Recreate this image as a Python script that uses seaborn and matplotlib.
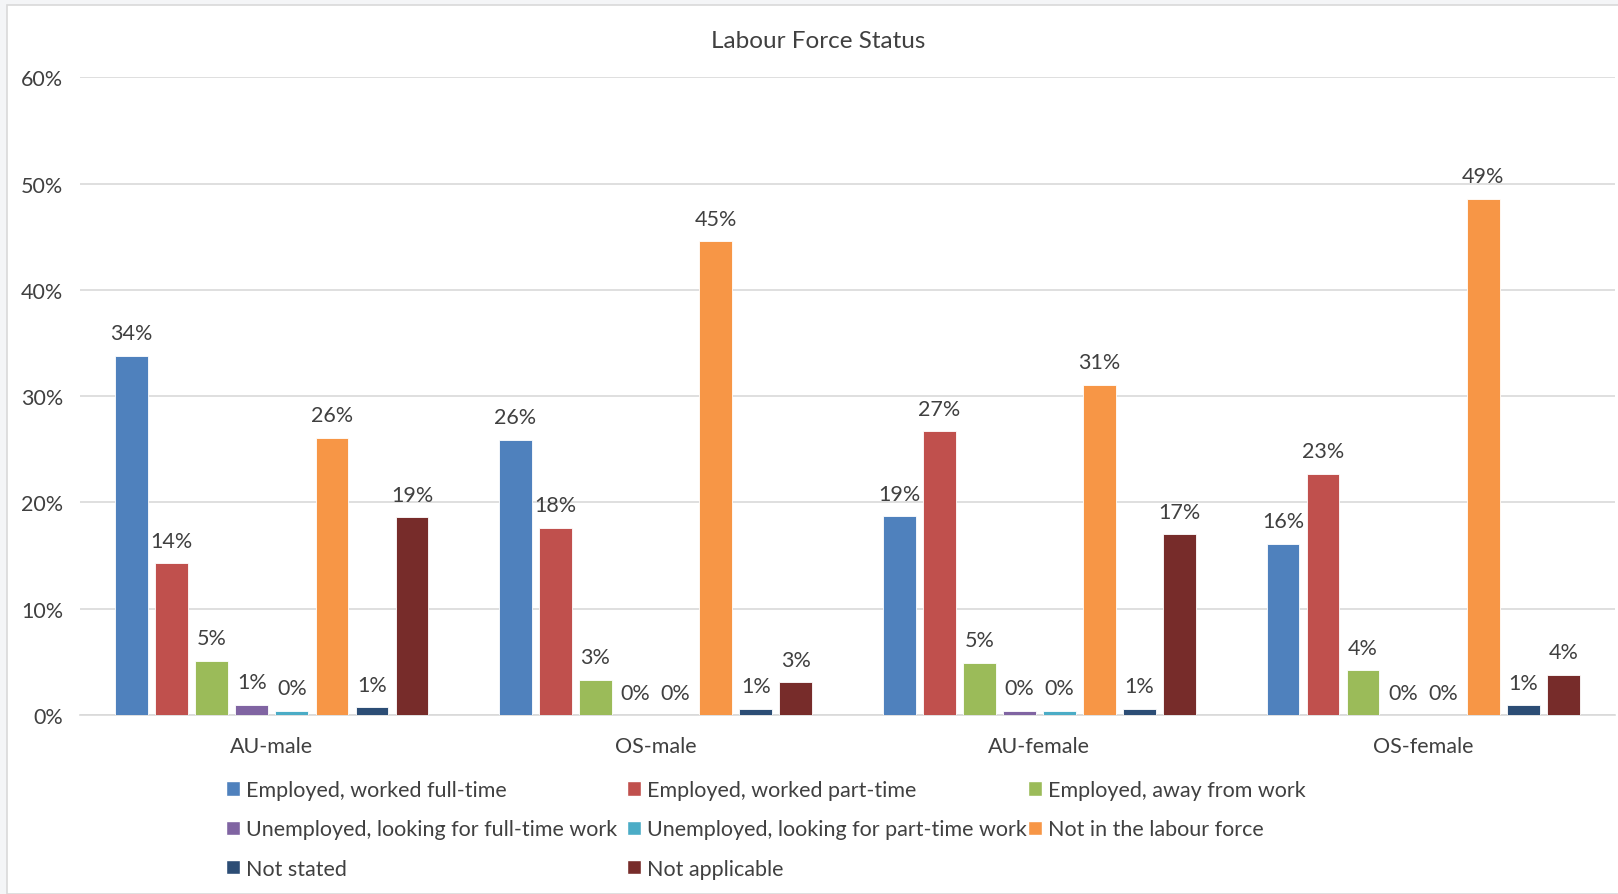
import matplotlib
matplotlib.use("Agg")
import matplotlib.pyplot as plt
from matplotlib.patches import Rectangle
import seaborn as sns
import pandas as pd

# Groups, statuses and shares (fraction of each group)
groups = ["AU-male", "OS-male", "AU-female", "OS-female"]
statuses = [
    "Employed, worked full-time",
    "Employed, worked part-time",
    "Employed, away from work",
    "Unemployed, looking for full-time work",
    "Unemployed, looking for part-time work",
    "Not in the labour force",
    "Not stated",
    "Not applicable",
]
au_male = [0.338, 0.143, 0.051, 0.0095, 0.004, 0.261, 0.0075, 0.186]
os_male = [0.259, 0.176, 0.033, 0.0, 0.0, 0.446, 0.0057, 0.031]
au_female = [0.187, 0.267, 0.049, 0.004, 0.004, 0.311, 0.0057, 0.170]
os_female = [0.161, 0.227, 0.042, 0.0, 0.0, 0.486, 0.0094, 0.038]
yticks = [0.0, 0.1, 0.2, 0.3, 0.4, 0.5, 0.6]

colors = ["#4F81BD", "#C0504D", "#9BBB59", "#8064A2",
          "#4BACC6", "#F79646", "#2C4D75", "#772C2A"]

rows = []
for g, vals in zip(groups, [au_male, os_male, au_female, os_female]):
    for s, v in zip(statuses, vals):
        rows.append({"group": g, "status": s, "share": v})
df = pd.DataFrame(rows)

sns.set_theme(style="white")
plt.rcParams["font.family"] = ["Lato", "DejaVu Sans"]
text_color = "#404040"
fs = 15.5

W, H = 1618, 895
fig = plt.figure(figsize=(W / 100, H / 100), dpi=100)
fig.patch.set_facecolor("#f4f5f7")
fig.patches.append(Rectangle((7 / W, 0), 1.0, 1 - 6 / H, transform=fig.transFigure,
                             facecolor="white", edgecolor="#d9d9d9", linewidth=1.2,
                             zorder=-5))

ax = fig.add_axes([80 / W, 1 - 716 / H, 1535 / W, (716 - 78.4) / H])
ax.set_facecolor("none")
sns.barplot(data=df, x="group", y="share", hue="status", order=groups,
            hue_order=statuses, palette=colors, width=0.835, gap=0.18,
            edgecolor="white", linewidth=0.6, saturation=1, ax=ax, legend=False,
            zorder=3)

for cont in ax.containers:
    ax.bar_label(cont, fmt="{:.0%}", padding=9, fontsize=fs, color=text_color)

ax.set_ylim(0, 0.6)
ax.set_yticks(yticks)
ax.set_yticklabels([f"{t:.0%}" for t in yticks], fontsize=fs, color=text_color)
ax.tick_params(axis="x", labelsize=fs, labelcolor=text_color, length=0, pad=15)
ax.tick_params(axis="y", length=0, pad=12)
ax.yaxis.grid(True, color="#d9d9d9", linewidth=1.2, zorder=0)
ax.set_axisbelow(True)
ax.set_xlabel("")
ax.set_ylabel("")
for side in ["left", "right", "top"]:
    ax.spines[side].set_visible(False)
ax.spines["bottom"].set_color("#d9d9d9")
ax.spines["bottom"].set_linewidth(1.2)

fig.text(818 / W, 1 - 42 / H, "Labour Force Status", ha="center", va="center",
         fontsize=17.5, color=text_color)

# Legend: three columns laid out row by row
handles = [Rectangle((0, 0), 1, 1, facecolor=c) for c in colors]
col_x = [226, 627, 1028]
for ci in range(3):
    idx = list(range(ci, len(statuses), 3))
    fig.legend([handles[i] for i in idx], [statuses[i] for i in idx],
               loc="upper left", bbox_to_anchor=(col_x[ci] / W, 1 - 781 / H),
               frameon=False, fontsize=fs, handlelength=0.65, handleheight=0.65,
               handletextpad=0.3, labelspacing=0.9, borderpad=0,
               borderaxespad=0, labelcolor=text_color)

fig.savefig("out.png", dpi=100, facecolor=fig.get_facecolor())
